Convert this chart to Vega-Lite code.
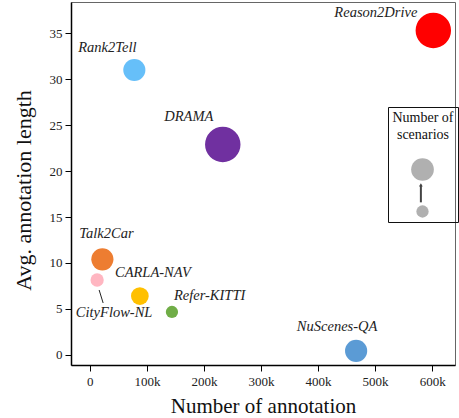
{
  "$schema": "https://vega.github.io/schema/vega-lite/v6.json",
  "width": 384,
  "height": 363,
  "autosize": {"type": "none"},
  "padding": {"left": 71, "top": 2, "right": 4, "bottom": 53},
  "background": "white",
  "config": {
    "view": {"stroke": "#666666", "strokeWidth": 1},
    "font": "Liberation Serif, Times New Roman, Times, serif",
    "axis": {
      "grid": false,
      "domainColor": "black",
      "domainWidth": 1.5,
      "tickColor": "black",
      "tickWidth": 1,
      "tickSize": 6,
      "labelFont": "Liberation Serif, Times New Roman, Times, serif",
      "labelFontSize": 13,
      "labelColor": "#222222",
      "titleFont": "Liberation Serif, Times New Roman, Times, serif",
      "titleFontWeight": "normal",
      "titleColor": "#111111"
    }
  },
  "datasets": {
    "datasets_table": [
      {"name": "Reason2Drive", "annotations": 602000, "avg_length": 35.3, "scenarios": 100},
      {"name": "Rank2Tell", "annotations": 78000, "avg_length": 31.0, "scenarios": 39},
      {"name": "DRAMA", "annotations": 233000, "avg_length": 22.9, "scenarios": 100},
      {"name": "Talk2Car", "annotations": 22000, "avg_length": 10.4, "scenarios": 39},
      {"name": "CityFlow-NL", "annotations": 12800, "avg_length": 8.15, "scenarios": 14},
      {"name": "CARLA-NAV", "annotations": 87700, "avg_length": 6.4, "scenarios": 25},
      {"name": "Refer-KITTI", "annotations": 143900, "avg_length": 4.67, "scenarios": 12},
      {"name": "NuScenes-QA", "annotations": 466700, "avg_length": 0.43, "scenarios": 39}
    ],
    "legend_arrow": [
      {"annotations": 580200, "top": 18.5, "bottom": 16.6}
    ]
  },
  "layer": [
    {
      "data": {"name": "datasets_table"},
      "encoding": {
        "x": {
          "field": "annotations", "type": "quantitative",
          "scale": {"domain": [-33000, 640000], "nice": false, "zero": false},
          "axis": {
            "title": "Number of annotation",
            "values": [0, 100000, 200000, 300000, 400000, 500000, 600000],
            "labelExpr": "datum.value == 0 ? '0' : (datum.value / 1000) + 'k'",
            "labelPadding": 4,
            "titleFontSize": 21,
            "titlePadding": 7
          }
        },
        "y": {
          "field": "avg_length", "type": "quantitative",
          "scale": {"domain": [-1.1, 38.4], "nice": false, "zero": false},
          "axis": {
            "title": "Avg. annotation length",
            "values": [0, 5, 10, 15, 20, 25, 30, 35],
            "labelPadding": 3,
            "titleFontSize": 22,
            "titleY": 188,
            "titlePadding": 14
          }
        }
      },
      "layer": [
        {
          "mark": {"type": "rule", "color": "#222222", "strokeWidth": 1, "xOffset": 2, "yOffset": 10, "x2Offset": 6, "y2Offset": 23},
          "transform": [{"filter": "datum.name === 'CityFlow-NL'"}],
          "encoding": {
            "x2": {"field": "annotations"},
            "y2": {"field": "avg_length"}
          }
        },
        {
          "mark": {"type": "circle", "opacity": 1},
          "encoding": {
            "color": {
              "field": "name", "type": "nominal", "legend": null,
              "scale": {
                "domain": ["Reason2Drive", "Rank2Tell", "DRAMA", "Talk2Car", "CityFlow-NL", "CARLA-NAV", "Refer-KITTI", "NuScenes-QA"],
                "range": ["#ff0000", "#66bff9", "#7030a0", "#ed7d31", "#ffb6c1", "#ffc000", "#70ad47", "#5b9bd5"]
              }
            },
            "size": {
              "field": "scenarios", "type": "quantitative",
              "scale": {"domain": [0, 100], "range": [0, 1257], "zero": true},
              "legend": {
                "orient": "none",
                "legendX": 317,
                "legendY": 105,
                "title": ["Number of", "scenarios"],
                "titleFont": "Liberation Serif, Times New Roman, Times, serif",
                "titleFontSize": 14,
                "titleFontWeight": "normal",
                "titleColor": "#111111",
                "titleAnchor": "middle",
                "titleAlign": "center",
                "titleLineHeight": 17,
                "titlePadding": 16,
                "strokeColor": "#111111",
                "padding": 4,
                "values": [41, 12],
                "labelExpr": "''",
                "labelOffset": 0,
                "symbolFillColor": "#b0b0b0",
                "symbolStrokeWidth": 0,
                "symbolOpacity": 1,
                "symbolOffset": -1,
                "rowPadding": 24
              }
            }
          }
        },
        {
          "mark": {"type": "text", "font": "Liberation Serif, Times New Roman, Times, serif", "fontStyle": "italic", "fontSize": 14.5, "color": "#222222", "align": "right", "baseline": "middle", "dx": -16, "dy": -17},
          "transform": [{"filter": "datum.name === 'Reason2Drive'"}],
          "encoding": {"text": {"field": "name"}}
        },
        {
          "mark": {"type": "text", "font": "Liberation Serif, Times New Roman, Times, serif", "fontStyle": "italic", "fontSize": 14.5, "color": "#222222", "align": "center", "baseline": "middle", "dx": -27, "dy": -22},
          "transform": [{"filter": "datum.name === 'Rank2Tell'"}],
          "encoding": {"text": {"field": "name"}}
        },
        {
          "mark": {"type": "text", "font": "Liberation Serif, Times New Roman, Times, serif", "fontStyle": "italic", "fontSize": 14.5, "color": "#222222", "align": "center", "baseline": "middle", "dx": -34, "dy": -27},
          "transform": [{"filter": "datum.name === 'DRAMA'"}],
          "encoding": {"text": {"field": "name"}}
        },
        {
          "mark": {"type": "text", "font": "Liberation Serif, Times New Roman, Times, serif", "fontStyle": "italic", "fontSize": 14.5, "color": "#222222", "align": "center", "baseline": "middle", "dx": 4, "dy": -25},
          "transform": [{"filter": "datum.name === 'Talk2Car'"}],
          "encoding": {"text": {"field": "name"}}
        },
        {
          "mark": {"type": "text", "font": "Liberation Serif, Times New Roman, Times, serif", "fontStyle": "italic", "fontSize": 14.5, "color": "#222222", "align": "center", "baseline": "middle", "dx": 13, "dy": -23},
          "transform": [{"filter": "datum.name === 'CARLA-NAV'"}],
          "encoding": {"text": {"field": "name"}}
        },
        {
          "mark": {"type": "text", "font": "Liberation Serif, Times New Roman, Times, serif", "fontStyle": "italic", "fontSize": 14.5, "color": "#222222", "align": "left", "baseline": "middle", "dx": 2, "dy": -16},
          "transform": [{"filter": "datum.name === 'Refer-KITTI'"}],
          "encoding": {"text": {"field": "name"}}
        },
        {
          "mark": {"type": "text", "font": "Liberation Serif, Times New Roman, Times, serif", "fontStyle": "italic", "fontSize": 14.5, "color": "#222222", "align": "center", "baseline": "middle", "dx": -19, "dy": -24},
          "transform": [{"filter": "datum.name === 'NuScenes-QA'"}],
          "encoding": {"text": {"field": "name"}}
        },
        {
          "mark": {"type": "text", "font": "Liberation Serif, Times New Roman, Times, serif", "fontStyle": "italic", "fontSize": 14.5, "color": "#222222", "align": "center", "baseline": "middle", "dx": 17, "dy": 33},
          "transform": [{"filter": "datum.name === 'CityFlow-NL'"}],
          "encoding": {"text": {"field": "name"}}
        }
      ]
    },
    {
      "data": {"name": "legend_arrow"},
      "layer": [
        {
          "mark": {"type": "rule", "color": "#444444", "strokeWidth": 2},
          "encoding": {
            "x": {"field": "annotations", "type": "quantitative"},
            "y": {"field": "top", "type": "quantitative"},
            "y2": {"field": "bottom"}
          }
        },
        {
          "mark": {"type": "point", "shape": "triangle-up", "filled": true, "color": "#444444", "size": 14, "opacity": 1},
          "encoding": {
            "x": {"field": "annotations", "type": "quantitative"},
            "y": {"field": "top", "type": "quantitative"}
          }
        }
      ]
    }
  ]
}
